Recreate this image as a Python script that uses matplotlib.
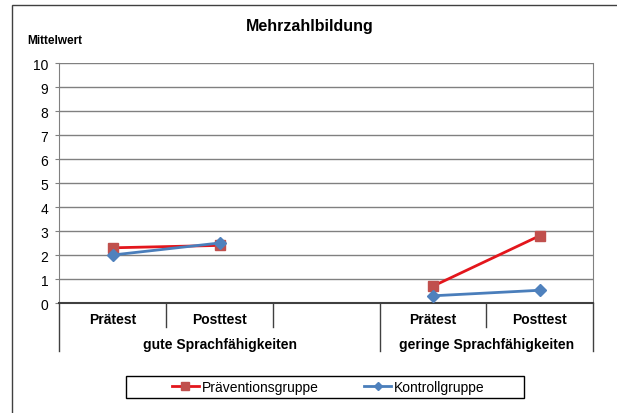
import numpy as np
import matplotlib
matplotlib.use('Agg')
import matplotlib.pyplot as plt
from matplotlib.patches import Rectangle

plt.rcParams['font.family'] = ['Liberation Sans', 'DejaVu Sans']

# Daten
tests = ['Prätest', 'Posttest', '', 'Prätest', 'Posttest']
groups = ['gute Sprachfähigkeiten', 'geringe Sprachfähigkeiten']
praevention = [2.3, 2.4, np.nan, 0.7, 2.8]
kontroll = [2.0, 2.5, np.nan, 0.3, 0.53]
yticks = list(range(0, 11))

fig = plt.figure(figsize=(6.17, 4.14), dpi=100)
ax = fig.add_axes([0.0964, 0.2657, 0.8646, 0.5797])

x = np.arange(1, len(tests) + 1)

# Linien
ax.plot(x, praevention, color='#e3161c', linewidth=2, marker='s', markersize=7,
        markerfacecolor='#c0504d', markeredgecolor='#c0504d', label='Präventionsgruppe', zorder=3)
ax.plot(x, kontroll, color='#4a7ebb', linewidth=2, marker='D', markersize=6,
        markerfacecolor='#4f81bd', markeredgecolor='#4f81bd', label='Kontrollgruppe', zorder=4)

ax.set_xlim(0.5, len(tests) + 0.5)
ax.set_ylim(0, 10)
ax.set_yticks(yticks)
ax.tick_params(axis='y', labelsize=10, length=3, color='#808080', pad=5)
ax.set_xticks([])
ax.yaxis.grid(True, color='#808080', linewidth=1)
ax.set_axisbelow(True)

for s in ['left', 'right', 'top']:
    ax.spines[s].set_color('#808080')
ax.spines['top'].set_visible(False)
ax.spines['bottom'].set_color('#404040')
ax.spines['bottom'].set_linewidth(1.5)

# Kategorie-Beschriftungen
trans = ax.get_xaxis_transform()
for xi, lab in zip(x, tests):
    ax.text(xi, -0.068, lab, transform=trans, ha='center', va='center',
            fontsize=10, fontweight='bold')
ax.text(2, -0.172, groups[0], transform=trans, ha='center', va='center',
        fontsize=10, fontweight='bold')
ax.text(4.5, -0.172, groups[1], transform=trans, ha='center', va='center',
        fontsize=10, fontweight='bold')

# Trennlinien
for b in [0.5, 3.5, 5.5]:
    ax.plot([b, b], [0, -0.2], transform=trans, color='#404040', linewidth=1, clip_on=False)
for b in [1.5, 2.5, 4.5]:
    ax.plot([b, b], [0, -0.1], transform=trans, color='#404040', linewidth=1, clip_on=False)

fig.text(0.502, 0.935, 'Mehrzahlbildung', ha='center', va='center', fontsize=11.5, fontweight='bold')
fig.text(0.044, 0.9, 'Mittelwert', ha='left', va='center', fontsize=8.5, fontweight='bold')

leg = fig.legend(loc='center', bbox_to_anchor=(0.532, 0.064), ncol=2, fontsize=10,
                 frameon=False, handlelength=1.95, columnspacing=3.3, handletextpad=0.2)
leg.legend_handles[0].set_markersize(6)
leg.legend_handles[1].set_markersize(4.5)

# Legendenrahmen
fig.patches.append(Rectangle((126 / 617, 1 - 399 / 414), 398 / 617, 22 / 414,
                             transform=fig.transFigure, fill=False, edgecolor='black', linewidth=1))

# Rahmen
fig.patches.append(Rectangle((0.0194, -0.02), 1.0, 1.0055, transform=fig.transFigure,
                             fill=False, edgecolor='#404040', linewidth=1))

fig.savefig('out.png', dpi=100)
